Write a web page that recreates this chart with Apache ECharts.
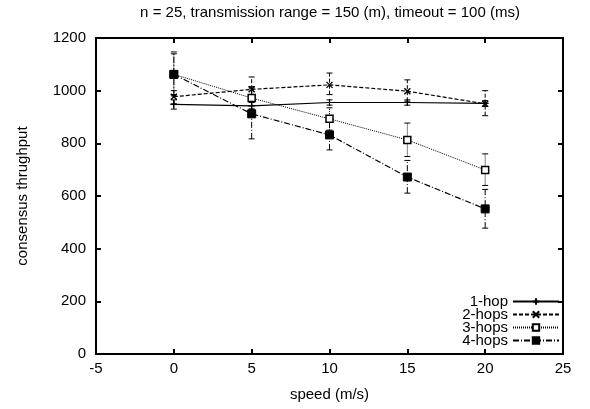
<!DOCTYPE html>
<html>
<head>
    <meta charset="utf-8">
    <title>consensus throughput</title>
    <script src="https://cdn.jsdelivr.net/npm/echarts@6/dist/echarts.min.js"></script>
    <style>
        html, body { margin:0; padding:0; background:#fff; }
        #chart { width:590px; height:409px; }
    </style>
</head>
<body>
<div id="chart"></div>
<script>
// speed (m/s) on the x axis
var speeds = [0, 5, 10, 15, 20];
var yTicks = [0, 200, 400, 600, 800, 1000, 1200];

var hop1 = [948, 942, 955, 955, 952];
var hop1Low = [930, 930, 945, 945, 940];
var hop1High = [965, 955, 965, 965, 962];

var hop2 = [977, 1005, 1022, 998, 950];
var hop2Low = [950, 960, 985, 960, 905];
var hop2High = [1000, 1052, 1067, 1041, 1000];

var hop3 = [1062, 972, 893, 813, 699];
var hop3Low = [985, 930, 850, 750, 640];
var hop3High = [1140, 1015, 935, 877, 760];

var hop4 = [1062, 912, 832, 672, 551];
var hop4Low = [980, 817, 775, 611, 478];
var hop4High = [1147, 1010, 890, 735, 625];

var FONT = '"Liberation Sans", Arial, sans-serif';

function pairs(ys) {
    return speeds.map(function (x, i) { return [x, ys[i]]; });
}
function bars(lo, hi) {
    return speeds.map(function (x, i) { return [x, lo[i], hi[i]]; });
}

function errorSeries(name, lo, hi, dash) {
    return {
        name: name,
        type: 'custom',
        data: bars(lo, hi),
        encode: { x: 0, y: [1, 2] },
        z: 1,
        renderItem: function (params, api) {
            var a = api.coord([api.value(0), api.value(1)]);
            var b = api.coord([api.value(0), api.value(2)]);
            var w = 3;
            var st = { stroke: '#000', lineWidth: 1, lineDash: dash };
            var cap = { stroke: '#000', lineWidth: 1 };
            return {
                type: 'group',
                children: [
                    { type: 'line', shape: { x1: a[0], y1: a[1], x2: b[0], y2: b[1] }, style: st },
                    { type: 'line', shape: { x1: a[0] - w, y1: a[1], x2: a[0] + w, y2: a[1] }, style: cap },
                    { type: 'line', shape: { x1: b[0] - w, y1: b[1], x2: b[0] + w, y2: b[1] }, style: cap }
                ]
            };
        }
    };
}

var chart = echarts.init(document.getElementById('chart'));

var frameLine = { show: true, onZero: false, lineStyle: { color: '#000', width: 2 } };
var tickIn = { show: true, inside: true, length: 5, lineStyle: { color: '#000', width: 2 } };

var option = {
    animation: false,
    backgroundColor: '#fff',
    textStyle: { fontFamily: FONT },
    title: {
        text: 'n = 25, transmission range = 150 (m), timeout = 100 (ms)',
        left: 330,
        top: 5,
        padding: 0,
        textAlign: 'center',
        textStyle: { fontFamily: FONT, fontSize: 15, fontWeight: 'normal', color: '#000' }
    },
    grid: { left: 96, right: 27, top: 38, bottom: 55 },
    legend: {
        orient: 'vertical',
        right: 30,
        bottom: 61,
        padding: 0,
        align: 'right',
        itemWidth: 46,
        itemHeight: 8,
        itemGap: -2,
        data: ['1-hop', '2-hops', '3-hops', '4-hops'],
        textStyle: { fontFamily: FONT, fontSize: 15, color: '#000' }
    },
    xAxis: [{
        type: 'value',
        min: -5, max: 25, interval: 5,
        name: 'speed (m/s)',
        nameLocation: 'middle',
        nameGap: 33,
        nameTextStyle: { fontFamily: FONT, fontSize: 15, color: '#000' },
        axisLine: frameLine,
        axisTick: tickIn,
        axisLabel: { color: '#000', fontSize: 15, margin: 7, fontFamily: FONT },
        splitLine: { show: false }
    }, {
        type: 'value',
        position: 'top',
        min: -5, max: 25, interval: 5,
        axisLine: frameLine,
        axisTick: tickIn,
        axisLabel: { show: false },
        splitLine: { show: false }
    }],
    yAxis: [{
        type: 'value',
        min: yTicks[0], max: yTicks[yTicks.length - 1], interval: 200,
        name: 'consensus thrughput',
        nameLocation: 'middle',
        nameGap: 66,
        nameTextStyle: { fontFamily: FONT, fontSize: 15, color: '#000' },
        axisLine: frameLine,
        axisTick: tickIn,
        axisLabel: {
            color: '#000', fontSize: 15, margin: 10, fontFamily: FONT,
            formatter: function (v) { return String(v); }
        },
        splitLine: { show: false }
    }, {
        type: 'value',
        position: 'right',
        min: yTicks[0], max: yTicks[yTicks.length - 1], interval: 200,
        axisLine: frameLine,
        axisTick: tickIn,
        axisLabel: { show: false },
        splitLine: { show: false }
    }],
    series: [
        errorSeries('e1', hop1Low, hop1High, null),
        errorSeries('e2', hop2Low, hop2High, [4, 2]),
        errorSeries('e3', hop3Low, hop3High, [1, 1]),
        errorSeries('e4', hop4Low, hop4High, [6, 2, 1, 2]),
        {
            name: '1-hop', type: 'line', data: pairs(hop1),
            symbol: 'path://M0,5L10,5M5,0L5,10', symbolSize: 7,
            lineStyle: { color: '#000', width: 1.2, type: 'solid' },
            itemStyle: { color: '#000', borderColor: '#000', borderWidth: 1.2 }
        },
        {
            name: '2-hops', type: 'line', data: pairs(hop2),
            symbol: 'path://M0,0L10,10M10,0L0,10', symbolSize: 6,
            lineStyle: { color: '#000', width: 1.2, type: [4, 2] },
            itemStyle: { color: '#000', borderColor: '#000', borderWidth: 1.4 }
        },
        {
            name: '3-hops', type: 'line', data: pairs(hop3),
            symbol: 'rect', symbolSize: 7,
            lineStyle: { color: '#000', width: 1, type: [1, 1] },
            itemStyle: { color: '#fff', borderColor: '#000', borderWidth: 1.5 }
        },
        {
            name: '4-hops', type: 'line', data: pairs(hop4),
            symbol: 'rect', symbolSize: 8,
            lineStyle: { color: '#000', width: 1.2, type: [6, 2, 1, 2] },
            itemStyle: { color: '#000', borderColor: '#000', borderWidth: 1 }
        }
    ]
};

chart.setOption(option);
window.onresize = function () { chart.resize(); };
</script>
</body>
</html>
